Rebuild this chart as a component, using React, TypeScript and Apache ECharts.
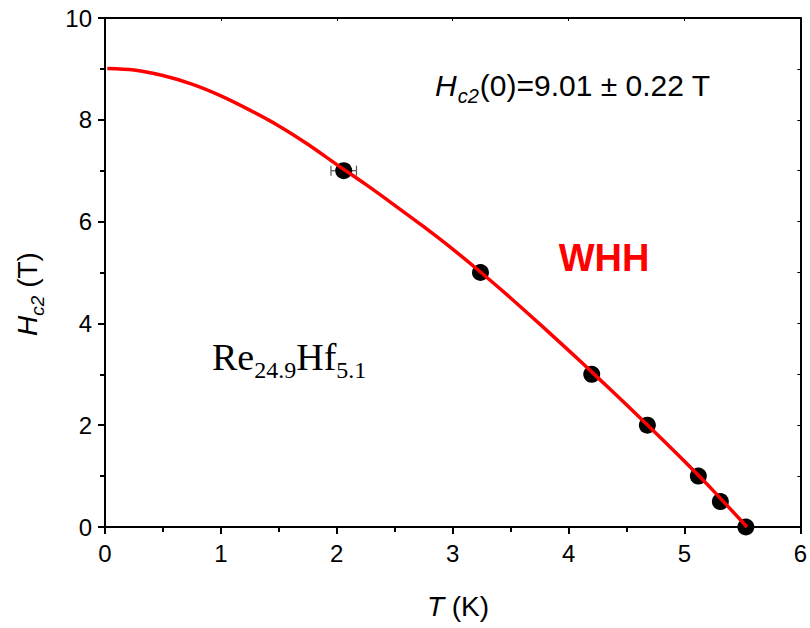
import React, { useEffect, useRef } from "react";
import * as echarts from "echarts";

// Measured data: temperature (K), upper critical field (T), x error (K)
const T_DATA = [2.06, 3.24, 4.2, 4.68, 5.12, 5.31, 5.53];
const H_DATA = [7, 5, 3, 2, 1, 0.5, 0];
const T_ERR = [0.11, 0, 0, 0, 0, 0, 0];

// WHH fit curve
const WHH_T = [0.02, 0.25, 0.5, 0.75, 1.0, 1.25, 1.5, 1.75, 2.0, 2.25, 2.5, 2.75, 3.0, 3.25, 3.5, 3.75, 4.0, 4.25, 4.5, 4.75, 5.0, 5.25, 5.54];
const WHH_H = [9.01, 8.98, 8.87, 8.7, 8.47, 8.19, 7.88, 7.52, 7.12, 6.73, 6.32, 5.9, 5.46, 4.99, 4.5, 3.99, 3.47, 2.94, 2.4, 1.85, 1.29, 0.71, 0];

const X_TICKS = [0, 1, 2, 3, 4, 5, 6];
const Y_TICKS = [0, 2, 4, 6, 8, 10];

const SANS = "Liberation Sans, Arial, sans-serif";
const SERIF = "Liberation Serif, Times New Roman, serif";

export default function App() {
  const ref = useRef<HTMLDivElement>(null);
  useEffect(() => {
    document.body.style.margin = "0";
    if (!ref.current) return;
    const chart = echarts.init(ref.current, null, { renderer: "svg" });
    const axisLineStyle = { color: "#000", width: 2 };
    const option: any = {
      animation: false,
      backgroundColor: "#fff",
      grid: { left: 105, right: 9, top: 18, bottom: 101 },
      xAxis: [
        {
          type: "value",
          min: X_TICKS[0],
          max: X_TICKS[X_TICKS.length - 1],
          interval: 1,
          position: "bottom",
          axisLine: { show: true, onZero: false, lineStyle: axisLineStyle },
          axisTick: { show: true, inside: false, length: 7, lineStyle: { color: "#000", width: 2 } },
          minorTick: { show: true, splitNumber: 2, length: 5, lineStyle: { color: "#000", width: 2 } },
          splitLine: { show: false },
          axisLabel: { fontSize: 24, color: "#000", fontFamily: SANS, margin: 14 },
        },
        {
          type: "value",
          min: X_TICKS[0],
          max: X_TICKS[X_TICKS.length - 1],
          interval: 1,
          position: "top",
          axisLine: { show: true, onZero: false, lineStyle: axisLineStyle },
          axisTick: { show: true, inside: true, length: 3, lineStyle: { color: "#000", width: 1 } },
          splitLine: { show: false },
          axisLabel: { show: false },
        },
      ],
      yAxis: [
        {
          type: "value",
          min: Y_TICKS[0],
          max: Y_TICKS[Y_TICKS.length - 1],
          interval: 2,
          position: "left",
          axisLine: { show: true, onZero: false, lineStyle: axisLineStyle },
          axisTick: { show: true, inside: false, length: 7, lineStyle: { color: "#000", width: 2 } },
          minorTick: { show: true, splitNumber: 2, length: 5, lineStyle: { color: "#000", width: 2 } },
          splitLine: { show: false },
          axisLabel: { fontSize: 24, color: "#000", fontFamily: SANS, margin: 13 },
        },
        {
          type: "value",
          min: Y_TICKS[0],
          max: Y_TICKS[Y_TICKS.length - 1],
          interval: 2,
          position: "right",
          axisLine: { show: true, onZero: false, lineStyle: axisLineStyle },
          axisTick: { show: true, inside: true, length: 3, lineStyle: { color: "#000", width: 1 } },
          minorTick: { show: true, splitNumber: 2, length: 3, lineStyle: { color: "#000", width: 1 } },
          splitLine: { show: false },
          axisLabel: { show: false },
        },
      ],
      series: [
        {
          type: "custom",
          xAxisIndex: 0,
          yAxisIndex: 0,
          z: 2,
          data: T_DATA.map((t, i) => [t, H_DATA[i], T_ERR[i]]),
          renderItem: (params: any, api: any) => {
            const x = api.value(0);
            const y = api.value(1);
            const e = api.value(2);
            if (!e) return null;
            const p1 = api.coord([x - e, y]);
            const p2 = api.coord([x + e, y]);
            const st = { stroke: "#555", lineWidth: 1.2 };
            return {
              type: "group",
              children: [
                { type: "line", shape: { x1: p1[0], y1: p1[1], x2: p2[0], y2: p2[1] }, style: st },
                { type: "line", shape: { x1: p1[0], y1: p1[1] - 5, x2: p1[0], y2: p1[1] + 5 }, style: st },
                { type: "line", shape: { x1: p2[0], y1: p2[1] - 5, x2: p2[0], y2: p2[1] + 5 }, style: st },
              ],
            };
          },
        },
        {
          type: "scatter",
          z: 3,
          symbol: "circle",
          symbolSize: 17,
          itemStyle: { color: "#000", opacity: 1 },
          data: T_DATA.map((t, i) => [t, H_DATA[i]]),
        },
        {
          type: "line",
          z: 4,
          smooth: 0.3,
          showSymbol: false,
          symbol: "none",
          lineStyle: { color: "#ff0000", width: 3.5 },
          data: WHH_T.map((t, i) => [t, WHH_H[i]]),
        },
      ],
      graphic: [
        {
          type: "text",
          x: 435,
          y: 88,
          style: {
            text: "{h|H}{s|c2}{n|(0)=9.01 ± 0.22 T}",
            verticalAlign: "middle",
            rich: {
              h: { fontSize: 30, fontStyle: "italic", fontFamily: SANS, fill: "#000", lineHeight: 36, verticalAlign: "top" },
              s: { fontSize: 20, fontStyle: "italic", fontFamily: SANS, fill: "#000", lineHeight: 20, verticalAlign: "bottom", padding: [0, 1, 0, 1] },
              n: { fontSize: 30, fontFamily: SANS, fill: "#000", lineHeight: 36, verticalAlign: "top" },
            },
          },
        },
        {
          type: "text",
          x: 604,
          y: 258,
          style: {
            text: "WHH",
            fontSize: 38,
            fontWeight: "bold",
            fontFamily: SANS,
            fill: "#ff0000",
            align: "center",
            verticalAlign: "middle",
          },
        },
        {
          type: "text",
          x: 212,
          y: 360,
          style: {
            text: "{m|Re}{s|24.9}{m|Hf}{s|5.1}",
            verticalAlign: "middle",
            rich: {
              m: { fontSize: 38, fontFamily: SERIF, fill: "#000", lineHeight: 44, verticalAlign: "top" },
              s: { fontSize: 24, fontFamily: SERIF, fill: "#000", lineHeight: 24, verticalAlign: "bottom" },
            },
          },
        },
        {
          type: "text",
          x: 458,
          y: 606,
          style: {
            text: "{i|T}{n| (K)}",
            align: "center",
            verticalAlign: "middle",
            rich: {
              i: { fontSize: 28, fontStyle: "italic", fontFamily: SANS, fill: "#000" },
              n: { fontSize: 28, fontFamily: SANS, fill: "#000" },
            },
          },
        },
        {
          type: "text",
          x: 30,
          y: 294,
          rotation: Math.PI / 2,
          style: {
            text: "{h|H}{s|c2}{n| (T)}",
            align: "center",
            verticalAlign: "middle",
            rich: {
              h: { fontSize: 28, fontStyle: "italic", fontFamily: SANS, fill: "#000", lineHeight: 34, verticalAlign: "top" },
              s: { fontSize: 19, fontStyle: "italic", fontFamily: SANS, fill: "#000", lineHeight: 19, verticalAlign: "bottom" },
              n: { fontSize: 28, fontFamily: SANS, fill: "#000", lineHeight: 34, verticalAlign: "top" },
            },
          },
        },
      ],
    };
    chart.setOption(option);
    return () => chart.dispose();
  }, []);
  return <div ref={ref} style={{ width: 810, height: 628 }} />;
}
